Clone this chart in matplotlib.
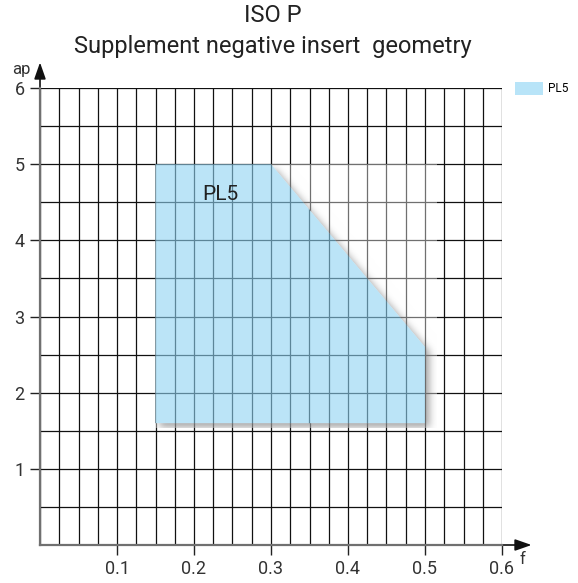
import numpy as np
import matplotlib
matplotlib.use("Agg")
import matplotlib.pyplot as plt
from matplotlib.patches import Polygon, Patch
from matplotlib.path import Path

plt.rcParams['font.family'] = ['Roboto', 'DejaVu Sans']

# Application area of the PL5 geometry (feed f, depth of cut ap)
region_name = "PL5"
region_f = [0.15, 0.15, 0.30, 0.50, 0.50]
region_ap = [1.6, 5.0, 5.0, 2.6, 1.6]

x_tick_values = [0.1, 0.2, 0.3, 0.4, 0.5, 0.6]
x_tick_labels = ["0.1", "0.2", "0.3", "0.4", "0.5", "0.6"]
y_tick_values = [1, 2, 3, 4, 5, 6]
y_tick_labels = ["1", "2", "3", "4", "5", "6"]

fill_color = "#8fd3f3"
legend_color = "#b8e4f8"

fig = plt.figure(figsize=(5.78, 5.83), dpi=100)
ax = fig.add_axes([40 / 578, 1 - 545 / 583, 462 / 578, 457 / 583])
ax.set_xlim(0, 0.6)
ax.set_ylim(0, 6)

ax.set_xticks(x_tick_values)
ax.set_xticklabels(x_tick_labels)
ax.set_yticks(y_tick_values)
ax.set_yticklabels(y_tick_labels)
ax.set_xticks(np.arange(0, 0.6001, 0.025), minor=True)
ax.set_yticks(np.arange(0, 6.001, 0.5), minor=True)
ax.tick_params(which="major", length=7, width=1, color="#222222",
               labelsize=13, labelcolor="#333333", pad=4)
ax.tick_params(which="minor", length=0)
ax.grid(which="both", color="#111111", linewidth=0.9, zorder=1)
ax.set_axisbelow(True)

for side in ("top", "right"):
    ax.spines[side].set_visible(False)
for side in ("left", "bottom"):
    ax.spines[side].set_color("#707070")
    ax.spines[side].set_linewidth(1.6)
    ax.spines[side].set_zorder(6)

# Arrow heads on both axes
ax.annotate("", xy=(1.07, 0), xytext=(0.99, 0), xycoords="axes fraction",
            arrowprops=dict(arrowstyle="-|>,head_width=0.35,head_length=1.0",
                            color="#111111", lw=1.2), annotation_clip=False)
ax.annotate("", xy=(0, 1.062), xytext=(0, 0.99), xycoords="axes fraction",
            arrowprops=dict(arrowstyle="-|>,head_width=0.35,head_length=1.0",
                            color="#111111", lw=1.2), annotation_clip=False)
ax.text(1.037, -0.015, "f", transform=ax.transAxes, fontsize=12,
        color="#333333", ha="left", va="top")
ax.text(-0.04, 1.025, "ap", transform=ax.transAxes, fontsize=12,
        color="#333333", ha="center", va="bottom")

# Soft drop shadow behind the region, rendered as a blurred mask
x0, x1 = min(region_f), max(region_f) + 0.015
y0, y1 = min(region_ap) - 0.06, max(region_ap)
nx, ny = 300, 300
gx = np.linspace(x0, x1, nx)
gy = np.linspace(y0, y1, ny)
GX, GY = np.meshgrid(gx, gy)
dx, dy = 0.006, -0.06
shadow_path = Path(np.column_stack([np.array(region_f) + dx, np.array(region_ap) + dy]))
mask = shadow_path.contains_points(np.column_stack([GX.ravel(), GY.ravel()])).reshape(ny, nx).astype(float)


def blur(a, r):
    k = np.exp(-0.5 * (np.arange(-3 * r, 3 * r + 1) / r) ** 2)
    k /= k.sum()
    a = np.apply_along_axis(lambda m: np.convolve(m, k, mode="same"), 0, a)
    a = np.apply_along_axis(lambda m: np.convolve(m, k, mode="same"), 1, a)
    return a


soft = blur(mask, 4)
shade = soft * 0.6
base = 0.4
alpha = base + shade * (1 - base)
gray = 0.42
rgba = np.zeros((ny, nx, 4))
rgba[..., 0] = rgba[..., 1] = rgba[..., 2] = (base * (1 - shade) + gray * shade) / np.maximum(alpha, 1e-6)
rgba[..., 3] = alpha
ax.imshow(rgba, extent=(x0, x1, y0, y1), origin="lower", aspect="auto",
          interpolation="bilinear", zorder=2)

# Keep the grid dark inside the region by redrawing it under the fill
inner = Polygon(np.column_stack([region_f, region_ap]), closed=True,
                facecolor="white", edgecolor="none", zorder=2.5)
ax.add_patch(inner)
for xv in np.arange(0.15, 0.5001, 0.025):
    ax.axvline(xv, color="#111111", lw=0.9, zorder=2.6, clip_path=inner)
for yv in np.arange(1.5, 5.001, 0.5):
    ax.axhline(yv, color="#111111", lw=0.9, zorder=2.6, clip_path=inner)

poly = Polygon(np.column_stack([region_f, region_ap]), closed=True,
               facecolor=fill_color, edgecolor="none", alpha=0.6, zorder=3)
ax.add_patch(poly)
ax.text(0.234, 4.6, region_name, fontsize=15, color="#222222",
        ha="center", va="center", zorder=5)

fig.text(273 / 578, 1 - 16 / 583, "ISO P", ha="center", va="center",
         fontsize=17, color="#222222")
fig.text(273 / 578, 1 - 46 / 583, "Supplement negative insert  geometry",
         ha="center", va="center", fontsize=17, color="#222222")

fig.legend(handles=[Patch(facecolor=legend_color, edgecolor="none", label=region_name)],
           loc="upper left", bbox_to_anchor=(515 / 578, 1 - 82 / 583),
           frameon=False, fontsize=8.5, handlelength=2.35, handleheight=1.3,
           handletextpad=0.45, borderaxespad=0, borderpad=0)

fig.savefig("out.png", dpi=100)
